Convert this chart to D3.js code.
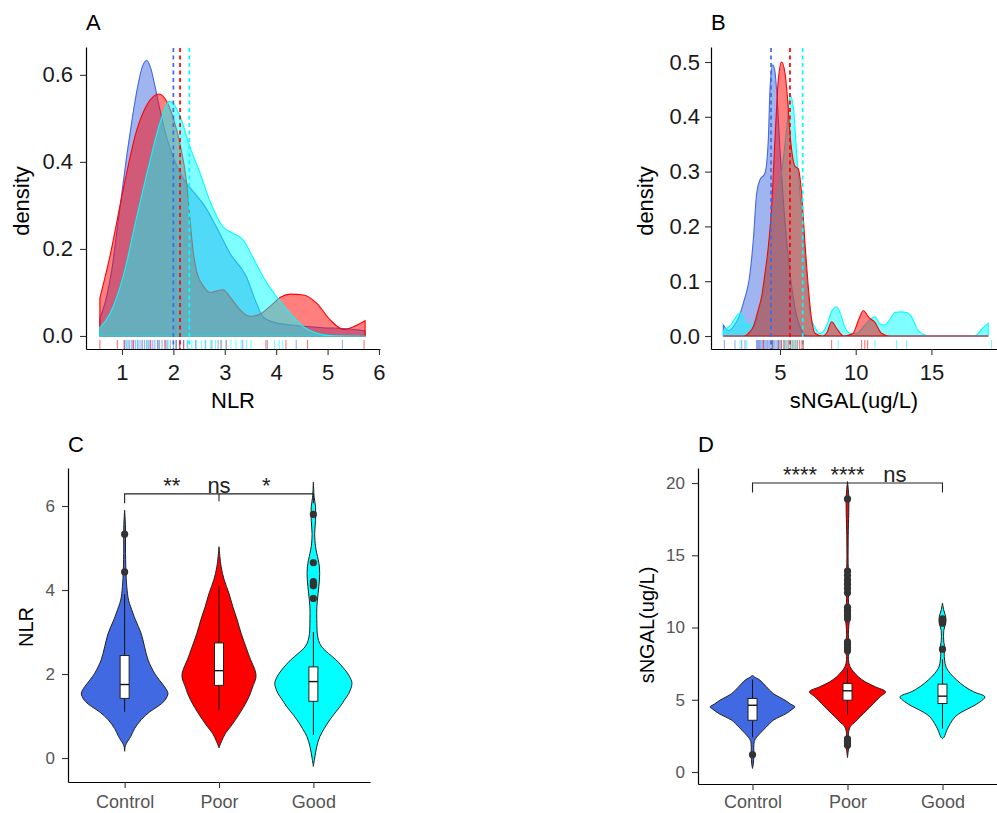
<!DOCTYPE html>
<html>
<head>
<meta charset="utf-8">
<script src="https://cdn.jsdelivr.net/npm/d3@7"></script>
<style>
  body { margin: 0; background: #fff; }
</style>
</head>
<body>
<svg id="chart" width="997" height="813"></svg>
<script>
const groups = ["Control", "Poor", "Good"];
const groupColors = ["#4169E1", "#FF0000", "#00FFFF"];

// A: NLR density per group, [NLR, density]
const nlrDensControl = [[0.57,0.04],[0.7,0.09],[0.8,0.15],[0.9,0.24],[1.0,0.33],[1.1,0.42],[1.2,0.5],[1.3,0.57],[1.4,0.62],[1.48,0.633],[1.56,0.615],[1.64,0.575],[1.72,0.53],[1.86,0.46],[2.0,0.41],[2.2,0.36],[2.4,0.33],[2.6,0.3],[2.84,0.25],[3.1,0.19],[3.42,0.136],[3.62,0.074],[3.75,0.043],[4.0,0.03],[4.3,0.025],[4.9,0.019],[5.3,0.017],[5.73,0.012]];
const nlrDensPoor = [[0.57,0.087],[0.76,0.18],[1.03,0.34],[1.28,0.47],[1.48,0.53],[1.72,0.556],[1.87,0.539],[2.0,0.5],[2.13,0.44],[2.26,0.35],[2.33,0.26],[2.39,0.19],[2.45,0.15],[2.58,0.115],[2.71,0.1],[2.97,0.106],[3.1,0.09],[3.3,0.06],[3.49,0.045],[3.68,0.05],[3.88,0.068],[4.1,0.09],[4.27,0.096],[4.53,0.094],[4.79,0.075],[5.05,0.037],[5.31,0.015],[5.5,0.021],[5.73,0.035]];
const nlrDensGood = [[0.57,0.019],[0.76,0.05],[1.03,0.14],[1.28,0.27],[1.54,0.4],[1.74,0.49],[1.93,0.539],[2.13,0.505],[2.32,0.435],[2.52,0.374],[2.71,0.31],[2.97,0.25],[3.16,0.236],[3.36,0.22],[3.55,0.18],[3.75,0.135],[4.01,0.09],[4.27,0.052],[4.53,0.021],[4.79,0.006],[5.05,0.001],[5.73,0]];
const nlrMeans = [2.0, 2.13, 2.31];
const nlrRugControl = [1.05,1.08,1.12,1.15,1.19,1.22,1.26,1.3,1.33,1.37,1.4,1.44,1.48,1.52,1.56,1.6,1.64,1.69,1.73,1.78,1.83,1.88,1.94,2.0,2.06,2.13,2.2,2.27,2.43,2.62,2.75,2.87,3.35,3.83,4.39,5.29];
const nlrRugPoor = [0.57,0.91,1.04,1.22,1.55,1.7,1.85,2.05,2.12,2.2,2.93,3.03,3.8,4.19,4.61,5.71];
const nlrRugGood = [1.1,1.3,1.5,1.7,1.9,2.05,2.28,2.36,2.45,2.55,2.63,2.72,2.82,2.92,3.02,3.12,3.22,3.32,3.42,3.51,3.97,4.06,4.13];

// B: sNGAL density per group, [sNGAL, density]
const sngalDensControl = [[1.26,0.02],[1.6,0.01],[2.0,0.02],[2.36,0.04],[2.58,0.06],[3.02,0.114],[3.24,0.175],[3.46,0.26],[3.68,0.285],[4.01,0.297],[4.23,0.358],[4.34,0.449],[4.52,0.495],[4.67,0.482],[4.8,0.44],[5.0,0.34],[5.3,0.22],[5.6,0.13],[6.0,0.05],[6.4,0.012],[6.8,0],[18.75,0]];
const sngalDensPoor = [[1.26,0],[2.6,0],[3.02,0.008],[3.24,0.017],[3.57,0.048],[3.79,0.072],[4.01,0.114],[4.23,0.163],[4.45,0.236],[4.67,0.358],[4.89,0.467],[5.11,0.5],[5.33,0.48],[5.48,0.44],[5.66,0.37],[5.99,0.31],[6.21,0.305],[6.43,0.26],[6.65,0.17],[6.87,0.09],[7.09,0.03],[7.31,0.005],[7.8,0],[8.1,0.006],[8.41,0.026],[8.74,0.014],[9.2,0],[9.8,0.004],[10.2,0.03],[10.5,0.046],[10.9,0.033],[11.27,0.025],[11.7,0.005],[12.2,0],[18.75,0]];
const sngalDensGood = [[1.26,0.01],[1.75,0.02],[2.36,0.042],[2.6,0.03],[2.86,0.018],[3.2,0.022],[3.6,0.05],[4.01,0.11],[4.4,0.2],[4.8,0.26],[5.11,0.3],[5.45,0.38],[5.66,0.44],[5.88,0.418],[6.1,0.333],[6.43,0.224],[6.76,0.114],[6.98,0.041],[7.31,0.016],[7.64,0.004],[8.1,0.02],[8.41,0.045],[8.74,0.053],[9.0,0.04],[9.3,0.015],[9.62,0.005],[10.06,0.005],[10.6,0.02],[10.94,0.03],[11.27,0.035],[11.6,0.022],[11.9,0.02],[12.26,0.03],[12.59,0.043],[13.0,0.044],[13.36,0.043],[13.69,0.035],[14.13,0.01],[14.57,0.002],[15.0,0],[17.6,0],[17.98,0.002],[18.4,0.015],[18.75,0.023]];
const sngalMeans = [4.41, 5.66, 6.5];
const sngalRugControl = [1.33,2.03,2.47,2.69,3.46,3.5,3.55,3.6,3.65,3.72,3.8,3.88,3.95,4.02,4.1,4.18,4.26,4.34,4.42,4.5,4.58,4.66,4.75,4.85,4.95,5.05,5.3];
const sngalRugPoor = [3.9,4.5,4.9,5.1,5.25,5.4,5.55,5.7,5.85,6.0,6.15,6.3,6.45,6.54,8.41,10.39,10.6,10.79];
const sngalRugGood = [2.36,2.8,4.6,5.0,5.3,5.5,5.65,5.77,5.9,6.0,6.1,8.85,11.27,12.7,13.36,18.97];

// C: NLR violins, [NLR, relative density]
const nlrViolinControl = [[0.16,0],[0.3,0.02],[0.51,0.14],[0.7,0.23],[0.91,0.38],[1.1,0.58],[1.23,0.77],[1.35,0.91],[1.46,0.98],[1.55,1.0],[1.7,0.92],[1.86,0.8],[2.02,0.69],[2.34,0.54],[2.65,0.46],[2.97,0.38],[3.29,0.25],[3.6,0.14],[3.76,0.09],[4.08,0.05],[4.47,0.03],[5.0,0.02],[5.5,0.02],[5.9,0]];
const nlrViolinPoor = [[0.24,0],[0.4,0.06],[0.59,0.15],[0.75,0.27],[0.91,0.38],[1.1,0.5],[1.31,0.62],[1.5,0.71],[1.7,0.78],[1.9,0.85],[2.02,0.85],[2.2,0.79],[2.34,0.73],[2.65,0.62],[2.97,0.51],[3.29,0.42],[3.6,0.32],[3.92,0.23],[4.24,0.12],[4.55,0.05],[4.8,0.02],[5.03,0]];
const nlrViolinGood = [[-0.2,0],[0.0,0.03],[0.28,0.08],[0.51,0.15],[0.7,0.25],[0.91,0.38],[1.1,0.52],[1.23,0.62],[1.4,0.73],[1.54,0.82],[1.7,0.88],[1.8,0.89],[1.95,0.83],[2.1,0.73],[2.22,0.63],[2.34,0.52],[2.49,0.35],[2.65,0.19],[2.8,0.12],[2.97,0.09],[3.29,0.08],[3.6,0.08],[3.92,0.11],[4.24,0.14],[4.55,0.14],[4.87,0.08],[5.03,0.05],[5.34,0.03],[5.66,0.05],[5.98,0.05],[6.2,0.02],[6.57,0]];
const nlrQ1 = [1.42, 1.73, 1.35];
const nlrMedian = [1.75, 2.08, 1.82];
const nlrQ3 = [2.44, 2.74, 2.17];
const nlrLow = [1.1, 1.15, 0.55];
const nlrHigh = [3.9, 4.1, 3.0];
const nlrOutliers = [[4.43, 5.33], [], [3.8, 4.1, 4.15, 4.2, 4.65, 5.8]];
const nlrBracket = 6.29;
const nlrSig = ["**", "ns", "*"];

// D: sNGAL violins, [sNGAL, relative density]
const sngalViolinControl = [[0.25,0],[0.6,0.02],[1.2,0.03],[1.8,0.03],[2.2,0.05],[2.66,0.17],[3.12,0.32],[3.58,0.48],[4.05,0.78],[4.35,0.92],[4.51,0.98],[4.7,0.88],[4.97,0.75],[5.43,0.48],[5.9,0.32],[6.36,0.17],[6.59,0.04],[6.7,0]];
const sngalViolinPoor = [[1.0,0],[1.5,0.02],[2.1,0.05],[2.5,0.02],[3.12,0.06],[3.47,0.18],[3.82,0.29],[4.28,0.45],[4.74,0.6],[5.2,0.75],[5.55,0.88],[5.9,0.64],[6.24,0.41],[6.59,0.25],[6.94,0.14],[7.28,0.06],[7.8,0.02],[8.7,0.05],[9.5,0.02],[11.0,0.05],[12.0,0.02],[13.0,0.06],[14.0,0.02],[16.0,0.015],[19.0,0.03],[20.1,0]];
const sngalViolinGood = [[2.3,0],[2.43,0.04],[2.89,0.1],[3.35,0.18],[3.82,0.29],[4.16,0.45],[4.51,0.68],[4.86,0.87],[5.2,0.98],[5.55,0.72],[5.9,0.52],[6.36,0.33],[6.82,0.18],[7.28,0.08],[7.75,0.05],[8.2,0.04],[8.5,0.06],[9.0,0.03],[9.8,0.03],[10.4,0.08],[10.8,0.07],[11.2,0.03],[11.7,0]];
const sngalQ1 = [3.58, 4.97, 4.74];
const sngalMedian = [4.62, 5.62, 5.25];
const sngalQ3 = [5.09, 6.13, 6.08];
const sngalLow = [2.4, 4.0, 3.0];
const sngalHigh = [6.4, 7.2, 7.8];
const sngalOutliers = [[1.2], [1.85,2.0,2.15,2.3,8.4,8.6,8.8,9.0,10.6,10.8,11.0,11.2,11.4,12.4,12.7,13.0,13.3,13.6,13.9,18.9], [8.5,10.3,10.45,10.6]];
const sngalBracket = 20.0;
const sngalSig = ["****", "****", "ns"];
const comparisons = [["Control","Poor"], ["Control","Good"], ["Poor","Good"]];

const font = "'Liberation Sans', Arial, Helvetica, sans-serif";
const svg = d3.select("#chart").attr("font-family", font);

function styleAxis(g, size, color) {
  g.attr("font-family", font).attr("font-size", size);
  g.select(".domain").attr("stroke", "#000").attr("stroke-width", 1.2);
  g.selectAll(".tick line").attr("stroke", "#333").attr("stroke-width", 1.1);
  g.selectAll(".tick text").attr("fill", color);
}

function label(g, txt, x, y, size, opts = {}) {
  return g.append("text").text(txt)
    .attr("transform", `translate(${x},${y})` + (opts.rotate ? " rotate(-90)" : ""))
    .attr("text-anchor", opts.anchor || "middle")
    .attr("font-size", size)
    .attr("fill", opts.fill || "#000");
}

function densityPanel(o) {
  const x = d3.scaleLinear().domain(o.xDomain).range([o.left, o.right]);
  const y = d3.scaleLinear().domain(o.yDomain).range([o.bottom, o.top]);
  const g = svg.append("g");
  const area = d3.area().x(d => x(d[0])).y0(y(0)).y1(d => y(d[1])).curve(d3.curveMonotoneX);

  o.order.forEach(i => {
    g.append("path").attr("d", area(o.curves[i]))
      .attr("fill", groupColors[i]).attr("fill-opacity", 0.5)
      .attr("stroke", groupColors[i]).attr("stroke-width", 1.1);
  });

  // group means
  o.means.forEach((m, i) => {
    g.append("line").attr("x1", x(m)).attr("x2", x(m)).attr("y1", o.top + 1).attr("y2", o.bottom)
      .attr("stroke", groupColors[i]).attr("stroke-width", 1.7).attr("stroke-dasharray", "4,3.5");
  });

  // rugs
  o.rugs.forEach((r, i) => {
    g.append("g").selectAll("line").data(r).join("line")
      .attr("x1", d => x(d)).attr("x2", d => x(d))
      .attr("y1", o.bottom).attr("y2", o.bottom - 9)
      .attr("stroke", groupColors[i]).attr("stroke-opacity", 0.55).attr("stroke-width", 1.1);
  });

  g.append("g").attr("transform", `translate(0,${o.bottom})`)
    .call(d3.axisBottom(x).tickValues(o.xTicks).tickFormat(d3.format("d")).tickSize(6).tickSizeOuter(0).tickPadding(9))
    .call(styleAxis, 22, "#1a1a1a");
  g.append("g").attr("transform", `translate(${o.left},0)`)
    .call(d3.axisLeft(y).tickValues(o.yTicks).tickFormat(d3.format(".1f")).tickSize(6).tickSizeOuter(0).tickPadding(o.yPad))
    .call(styleAxis, 22, "#1a1a1a");

  label(g, o.title, o.left, o.top - 17, 22, {anchor: "start"});
  label(g, "density", o.yLabelX, (o.top + o.bottom) / 2 + 3, 22, {rotate: true});
  label(g, o.xLabel, (o.left + o.right) / 2, o.bottom + 59, 22);
}

function violinPanel(o) {
  const x = d3.scalePoint().domain(groups).range([o.left, o.right]).padding(o.pad);
  const y = d3.scaleLinear().domain(o.yDomain).range([o.bottom, o.top]);
  const w = d3.scaleLinear().domain([0, 1]).range([0, 43.3]);
  const g = svg.append("g");
  const bw = 4.5;

  groups.forEach((grp, i) => {
    const cx = x(grp);
    const area = d3.area().y(d => y(d[0]))
      .x0(d => cx - w(d[1])).x1(d => cx + w(d[1]))
      .curve(d3.curveCatmullRom.alpha(0.5));
    g.append("path").attr("d", area(o.violins[i]))
      .attr("fill", groupColors[i]).attr("stroke", "#222").attr("stroke-width", 1);

    // boxplot
    g.append("line").attr("x1", cx).attr("x2", cx).attr("y1", y(o.low[i])).attr("y2", y(o.q1[i]))
      .attr("stroke", "#111").attr("stroke-width", 1);
    g.append("line").attr("x1", cx).attr("x2", cx).attr("y1", y(o.q3[i])).attr("y2", y(o.high[i]))
      .attr("stroke", "#111").attr("stroke-width", 1);
    g.append("rect").attr("x", cx - bw).attr("width", bw * 2)
      .attr("y", y(o.q3[i])).attr("height", y(o.q1[i]) - y(o.q3[i]))
      .attr("fill", "#fff").attr("stroke", "#222").attr("stroke-width", 1);
    g.append("line").attr("x1", cx - bw).attr("x2", cx + bw).attr("y1", y(o.median[i])).attr("y2", y(o.median[i]))
      .attr("stroke", "#111").attr("stroke-width", 1.4);
    g.append("g").selectAll("circle").data(o.outliers[i]).join("circle")
      .attr("cx", cx).attr("cy", d => y(d)).attr("r", 3.6).attr("fill", "#333");
  });

  // significance bracket
  const by = y(o.bracket);
  const tip = 0.03 * (o.yDomain[1] - o.yDomain[0]);
  const yt = y(o.bracket - tip);
  g.append("path")
    .attr("d", `M${x("Control")},${yt}V${by}H${x("Good")}V${yt}` + (o.midTick ? `M${x("Poor")},${by}V${yt - 2}` : ""))
    .attr("fill", "none").attr("stroke", "#222").attr("stroke-width", 1.1);
  comparisons.forEach((c, k) => {
    label(g, o.sig[k], (x(c[0]) + x(c[1])) / 2, by - 1, 22, {fill: "#222"});
  });

  g.append("g").attr("transform", `translate(0,${o.bottom})`)
    .call(d3.axisBottom(x).tickSize(6).tickSizeOuter(0).tickPadding(o.xPad))
    .call(styleAxis, 18, "#555");
  g.append("g").attr("transform", `translate(${o.left},0)`)
    .call(d3.axisLeft(y).tickValues(o.yTicks).tickSize(6).tickSizeOuter(0).tickPadding(7))
    .call(styleAxis, 17, "#555");

  label(g, o.title, o.left, 452, 22, {anchor: "start"});
  label(g, o.yLabel, o.yLabelX, o.yLabelY, 20, {rotate: true});
}

densityPanel({
  title: "A", xLabel: "NLR", curves: [nlrDensControl, nlrDensPoor, nlrDensGood], order: [0, 1, 2],
  means: nlrMeans, rugs: [nlrRugControl, nlrRugPoor, nlrRugGood],
  xDomain: [0.3, 6.02], yDomain: [-0.03, 0.664], xTicks: [1, 2, 3, 4, 5, 6], yTicks: [0, 0.2, 0.4, 0.6],
  left: 86, right: 380, top: 47, bottom: 349, yPad: 7, yLabelX: 29
});

densityPanel({
  title: "B", xLabel: "sNGAL(ug/L)", curves: [sngalDensControl, sngalDensPoor, sngalDensGood], order: [0, 2, 1],
  means: sngalMeans, rugs: [sngalRugControl, sngalRugPoor, sngalRugGood],
  xDomain: [0.446, 19.33], yDomain: [-0.0237, 0.5274], xTicks: [5, 10, 15], yTicks: [0, 0.1, 0.2, 0.3, 0.4, 0.5],
  left: 711, right: 997, top: 47, bottom: 349, yPad: 5, yLabelX: 653
});

violinPanel({
  title: "C", yLabel: "NLR", violins: [nlrViolinControl, nlrViolinPoor, nlrViolinGood],
  q1: nlrQ1, median: nlrMedian, q3: nlrQ3, low: nlrLow, high: nlrHigh, outliers: nlrOutliers,
  bracket: nlrBracket, sig: nlrSig, midTick: true,
  yDomain: [-0.571, 6.905], yTicks: [0, 2, 4, 6],
  left: 68, right: 370, pad: 0.6, top: 468, bottom: 782, xPad: 7, yLabelX: 33, yLabelY: 627
});

violinPanel({
  title: "D", yLabel: "sNGAL(ug/L)", violins: [sngalViolinControl, sngalViolinPoor, sngalViolinGood],
  q1: sngalQ1, median: sngalMedian, q3: sngalQ3, low: sngalLow, high: sngalHigh, outliers: sngalOutliers,
  bracket: sngalBracket, sig: sngalSig, midTick: false,
  yDomain: [-0.83, 21.04], yTicks: [0, 5, 10, 15, 20],
  left: 698, right: 997, pad: 0.574, top: 468, bottom: 784, xPad: 5, yLabelX: 654, yLabelY: 625
});
</script>
</body>
</html>
